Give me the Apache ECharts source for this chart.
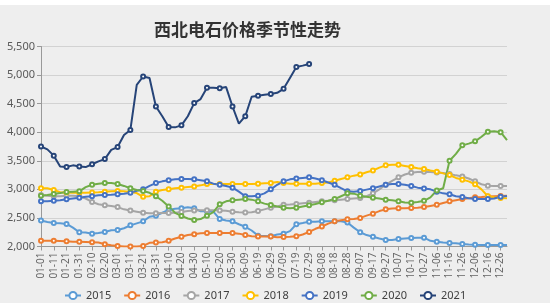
<!DOCTYPE html>
<html><head><meta charset="utf-8">
<script src="https://cdn.jsdelivr.net/npm/echarts@6/dist/echarts.min.js"></script>
<style>
html,body{margin:0;padding:0;background:#ffffff;}
#c{position:absolute;left:0;top:5px;width:550px;height:298px;background:#eeeeee;}
</style></head>
<body><div id="c"></div>
<script>
var titleText = '西北电石价格季节性走势';
var categories = ['01-01','01-06','01-11','01-16','01-21','01-26','01-31','02-05','02-10','02-15','02-20','02-25','03-01','03-06','03-11','03-16','03-21','03-26','03-31','04-05','04-10','04-15','04-20','04-25','04-30','05-05','05-10','05-15','05-20','05-25','05-30','06-04','06-09','06-14','06-19','06-24','06-29','07-04','07-09','07-14','07-19','07-24','07-29','08-03','08-08','08-13','08-18','08-23','08-28','09-02','09-07','09-12','09-17','09-22','09-27','10-02','10-07','10-12','10-17','10-22','10-27','11-01','11-06','11-11','11-16','11-21','11-26','12-01','12-06','12-11','12-16','12-21','12-26','12-31'];
var seriesNames = ['2015','2016','2017','2018','2019','2020','2021'];
var s2015 = [2455,2430,2410,2405,2395,2330,2250,2245,2225,2235,2255,2285,2290,2320,2370,2405,2440,2520,2540,
  2590,2640,2660,2670,2685,2670,2615,2615,2610,2480,2455,2440,2390,2345,2280,2190,2185,2180,2210,
  2225,2270,2390,2410,2435,2435,2440,2440,2440,2440,2420,2330,2250,2200,2170,2140,2115,2115,2130,
  2140,2150,2155,2155,2100,2085,2070,2060,2055,2045,2035,2030,2028,2026,2026,2026,2026];
var s2016 = [2100,2100,2100,2095,2090,2085,2085,2080,2075,2070,2040,2020,2010,2000,2000,2000,2010,2065,2070,
  2075,2100,2140,2170,2200,2215,2230,2235,2235,2235,2235,2235,2225,2200,2180,2175,2175,2175,2160,
  2165,2170,2180,2210,2255,2310,2350,2400,2440,2460,2475,2480,2500,2540,2575,2620,2650,2665,2670,
  2670,2675,2680,2690,2710,2730,2760,2790,2810,2830,2845,2860,2865,2875,2880,2885,2890];
var s2017 = [2900,2890,2880,2880,2890,2890,2880,2840,2780,2740,2720,2710,2690,2650,2630,2610,2590,2580,2580,
  2585,2585,2590,2605,2620,2630,2635,2635,2635,2630,2625,2610,2600,2595,2600,2620,2650,2680,2700,
  2730,2735,2745,2755,2765,2780,2790,2800,2810,2820,2830,2840,2850,2880,2930,3000,3080,3150,3210,
  3260,3290,3305,3310,3305,3295,3285,3270,3245,3225,3190,3140,3090,3065,3060,3060,3060];
var s2018 = [3020,3020,2990,2950,2945,2940,2940,2940,2945,2950,2960,2965,2970,2965,2955,2935,2870,2880,2960,
  2990,3000,3020,3030,3040,3050,3070,3095,3095,3095,3095,3095,3095,3095,3095,3100,3105,3110,3130,
  3110,3100,3100,3100,3100,3100,3110,3120,3150,3180,3210,3240,3260,3300,3330,3380,3420,3430,3430,
  3410,3390,3370,3355,3330,3310,3280,3250,3200,3170,3140,3090,3000,2880,2860,2850,2845];
var s2019 = [2790,2790,2800,2810,2825,2840,2855,2870,2880,2895,2900,2905,2915,2925,2940,2975,3000,3060,3110,
  3140,3160,3175,3180,3180,3175,3160,3140,3100,3080,3060,3030,2960,2880,2880,2890,2930,3000,3080,
  3140,3175,3190,3200,3210,3190,3160,3120,3080,3020,2965,2960,2970,2995,3020,3050,3080,3095,3095,
  3080,3060,3030,3015,3000,2960,2930,2915,2880,2865,2845,2830,2830,2830,2840,2870,2885];
var s2020 = [2890,2900,2920,2935,2955,2960,2965,3040,3080,3100,3110,3110,3095,3060,3020,2990,2970,2940,2880,
  2800,2700,2590,2535,2490,2465,2480,2540,2600,2740,2790,2810,2820,2830,2820,2790,2750,2725,2700,
  2680,2670,2680,2700,2720,2745,2775,2800,2830,2880,2930,2925,2890,2870,2855,2840,2820,2810,2790,
  2770,2765,2780,2800,2860,2980,3020,3500,3620,3770,3800,3840,3920,4010,4015,4000,3860];
var s2021 = [3750,3700,3590,3400,3390,3420,3400,3390,3440,3490,3530,3690,3740,3950,4040,4830,4975,4950,4450,
  4280,4090,4085,4120,4280,4510,4580,4780,4780,4770,4790,4450,4150,4280,4620,4640,4655,4670,4690,
  4760,4950,5140,5165,5195];
var colors = ['#5b9bd5','#ed7d31','#a5a5a5','#ffc000','#4472c4','#70ad47','#264478'];
var yTicks = {min:2000, max:5500, step:500};

var allData = [s2015,s2016,s2017,s2018,s2019,s2020,s2021];
var chart = echarts.init(document.getElementById('c'), null, {renderer:'canvas'});
var series = seriesNames.map(function(n,i){
  return {
    name:n, type:'line', data:allData[i],
    symbol:'emptyCircle', showAllSymbol:true,
    symbolSize:function(v,p){ return p.dataIndex % 2 === 0 ? 4 : 0; },
    lineStyle:{width:2, color:colors[i]},
    itemStyle:{color:colors[i], borderWidth:1},
    emphasis:{disabled:true},
    animation:false
  };
});
chart.setOption({
  animation:false,
  color:colors,
  title:{text:titleText, left:149, top:11,
    textStyle:{fontSize:17, fontWeight:'bold', color:'#333', fontFamily:'Noto Sans CJK SC'}},
  legend:{data:seriesNames, left:59, top:280, itemWidth:16, itemHeight:9, itemGap:12,
    textStyle:{fontSize:11, color:'#404040', fontFamily:'Noto Sans'}},
  grid:{left:41, right:43, top:41.5, bottom:56.5, containLabel:false},
  xAxis:{type:'category', data:categories, boundaryGap:false,
    axisLine:{lineStyle:{color:'#999'}},
    axisTick:{interval:1, length:4, lineStyle:{color:'#999'}},
    axisLabel:{interval:1, rotate:90, fontSize:10, color:'#666', margin:6, fontFamily:'Noto Sans'},
    splitLine:{show:false}},
  yAxis:{type:'value', min:yTicks.min, max:yTicks.max, interval:yTicks.step,
    axisLine:{show:true, lineStyle:{color:'#999'}},
    axisTick:{show:true, length:4, lineStyle:{color:'#999'}},
    axisLabel:{fontSize:11, color:'#595959', margin:6, fontFamily:'Noto Sans',
      formatter:function(v){ return v.toLocaleString('en-US'); }},
    splitLine:{lineStyle:{color:'#d2d2d2'}}},
  series:series
});
</script></body></html>
